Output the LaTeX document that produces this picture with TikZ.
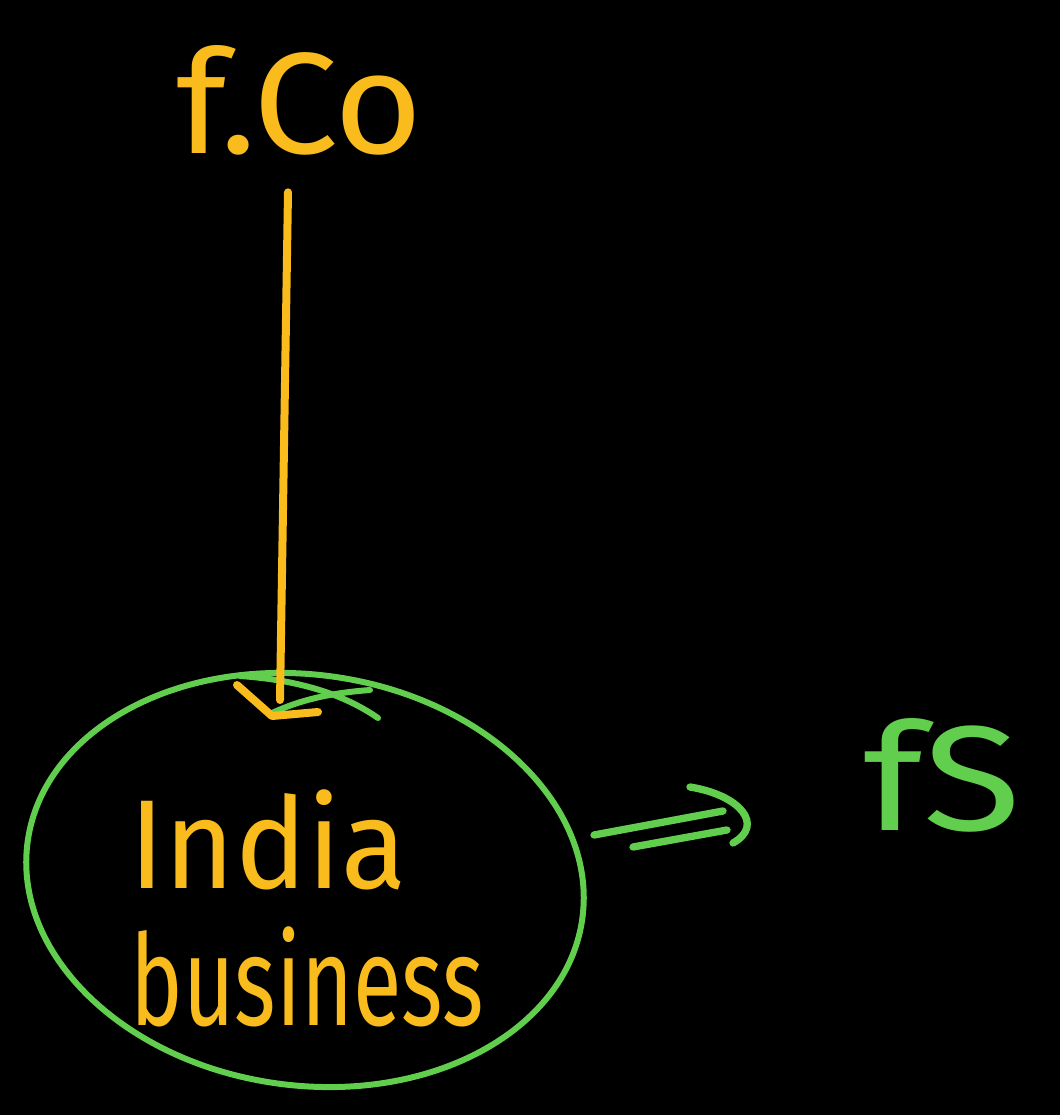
\documentclass[tikz,border=0pt]{standalone}
\usepackage{fontspec}
\usepackage{graphicx}
\setmainfont{Fira Sans}
\usetikzlibrary{shapes.geometric}
\definecolor{penorange}{RGB}{250,188,28}
\definecolor{pengreen}{RGB}{98,206,78}
\tikzset{
  inkorange/.style={draw=penorange, line width=6pt, line cap=round, line join=round},
  inkgreen/.style={draw=pengreen, line width=4.5pt, line cap=round, line join=round},
  orangetext/.style={text=penorange, inner sep=0pt},
  greentext/.style={text=pengreen, inner sep=0pt}
}
\begin{document}
\begin{tikzpicture}[x=0.75pt,y=-0.75pt]
  \fill[black] (0,0) rectangle (1060,1115);
  \useasboundingbox (0,0) rectangle (1060,1115);

  % parent company label
  \node[orangetext, font=\fontsize{108}{108}\selectfont, anchor=base] (fco) at (300,153) {\scalebox{1.05}[1]{f.Co}};

  % group business circled in green; the pen stroke starts inside and overshoots at the top
  \node[ellipse, inkgreen, minimum width=420pt, minimum height=308pt, rotate=-8] (biz) at (305,880) {};
  \draw[inkgreen] (240,676) .. controls (300,680) and (345,695) .. (378,718);
  \draw[inkgreen] (272,713) .. controls (300,700) and (330,693) .. (370,690);
  \node[orangetext, font=\fontsize{95}{95}\selectfont, anchor=base] (india) at (268,888) {\scalebox{0.95}[1]{India}};
  \node[orangetext, font=\fontsize{95}{95}\selectfont, anchor=base] (business) at (307,1025) {\scalebox{0.7}[1]{business}};

  % foreign subsidiary label
  \node[greentext, font=\fontsize{112}{112}\selectfont, anchor=base] (fs) at (942,830) {\scalebox{1.2}[1]{fS}};

  % ownership line from f.Co down into the circle
  \coordinate (lineend) at (280,700);
  \coordinate (tip) at (272,716);
  \draw[inkorange] ([xshift=-9pt,yshift=-28pt]fco.south) -- (lineend);
  \draw[inkorange] (tip) ++(-35,-31) -- (tip) -- ++(46,-4);

  % implication arrow to fS
  \coordinate (dA) at (594,835);
  \coordinate (dB) at (633,847);
  \draw[inkgreen, line width=5.5pt] (dA) -- (723,811);
  \draw[inkgreen, line width=5.5pt] (dB) -- (727,830);
  \draw[inkgreen, line width=5.5pt] (690,787) .. controls (740,795) and (765,825) .. (733,843);
\end{tikzpicture}
\end{document}
